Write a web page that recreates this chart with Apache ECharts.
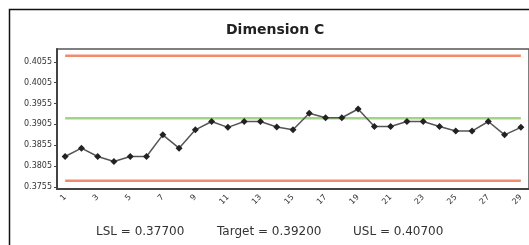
<!DOCTYPE html>
<html>
<head>
<meta charset="utf-8">
<script src="https://cdn.jsdelivr.net/npm/echarts@6/dist/echarts.min.js"></script>
<style>
  html, body { margin: 0; padding: 0; background: #fff; }
  #chart { width: 529px; height: 245px; }
</style>
</head>
<body>
<div id="chart"></div>
<script>
// samples 1..29
var categories = ['1', '2', '3', '4', '5', '6', '7', '8', '9', '10', '11', '12', '13', '14', '15',
	'16', '17', '18', '19', '20', '21', '22', '23', '24', '25', '26', '27', '28', '29'];
var measured = [0.3828, 0.3848, 0.3828, 0.3816, 0.3828, 0.3828, 0.3880, 0.3848, 0.3892, 0.3912,
	0.3898, 0.3912, 0.3912, 0.3899, 0.3892, 0.3932, 0.3921, 0.3921, 0.3942, 0.3900,
	0.3900, 0.3912, 0.3912, 0.3900, 0.3889, 0.3889, 0.3912, 0.3880, 0.3898];
var LSL = 0.377;
var TARGET = 0.392;
var USL = 0.407;
var yTicks = [0.3755, 0.3805, 0.3855, 0.3905, 0.3955, 0.4005, 0.4055];

var chart = echarts.init(document.getElementById('chart'));

// constant lines across all samples
var fill = function(v) {
	var arr = [];
	for (var i = 0; i < categories.length; i++) arr.push(v);
	return arr;
};

var option = {
	animation: false,
	title: {
		text: 'Dimension C',
		left: 221,
		top: 18,
		textStyle: { fontFamily: 'DejaVu Sans', fontWeight: 'bold', fontSize: 14, color: '#222' }
	},
	graphic: [
		{ type: 'rect', left: 7, top: 7, shape: { width: 560, height: 260 },
			style: { fill: null, stroke: '#111', lineWidth: 1.5 } },
		{ type: 'text', left: 96, top: 226,
			style: { text: 'LSL = ' + LSL.toFixed(5), font: '12px "DejaVu Sans"', fill: '#333' } },
		{ type: 'text', left: 217, top: 226,
			style: { text: 'Target = ' + TARGET.toFixed(5), font: '12px "DejaVu Sans"', fill: '#333' } },
		{ type: 'text', left: 353, top: 226,
			style: { text: 'USL = ' + USL.toFixed(5), font: '12px "DejaVu Sans"', fill: '#333' } }
	],
	grid: {
		left: 57, top: 49, width: 476, height: 140,
		show: true, borderColor: '#555', borderWidth: 1.5, backgroundColor: '#fff'
	},
	xAxis: {
		type: 'category',
		data: categories,
		boundaryGap: true,
		axisLine: { lineStyle: { color: '#444', width: 2 } },
		axisTick: { interval: 0, length: 3, lineStyle: { color: '#444' } },
		axisLabel: {
			interval: 1, rotate: 45, margin: 7,
			fontFamily: 'DejaVu Sans', fontSize: 8, color: '#333'
		}
	},
	yAxis: {
		type: 'value',
		min: 0.375,
		max: 0.4086,
		splitLine: { show: false },
		axisLine: { show: true, lineStyle: { color: '#444', width: 2 } },
		axisTick: { show: true, length: 3, customValues: yTicks, lineStyle: { color: '#444' } },
		axisLabel: {
			customValues: yTicks, margin: 5,
			fontFamily: 'DejaVu Sans', fontSize: 8, color: '#333',
			formatter: function(v) { return v.toFixed(4); }
		}
	},
	series: [{
		name: 'USL', type: 'line', data: fill(USL), symbol: 'none', silent: true,
		lineStyle: { color: '#f28b6e', width: 2.5 }
	}, {
		name: 'LSL', type: 'line', data: fill(LSL), symbol: 'none', silent: true,
		lineStyle: { color: '#f28b6e', width: 2.5 }
	}, {
		name: 'Target', type: 'line', data: fill(TARGET), symbol: 'none', silent: true,
		lineStyle: { color: '#a3d486', width: 2.5 }
	}, {
		name: 'Dimension C', type: 'line', data: measured,
		symbol: 'diamond', symbolSize: 7,
		itemStyle: { color: '#222' },
		lineStyle: { color: '#555', width: 1.5 }
	}]
};
chart.setOption(option);
</script>
</body>
</html>
